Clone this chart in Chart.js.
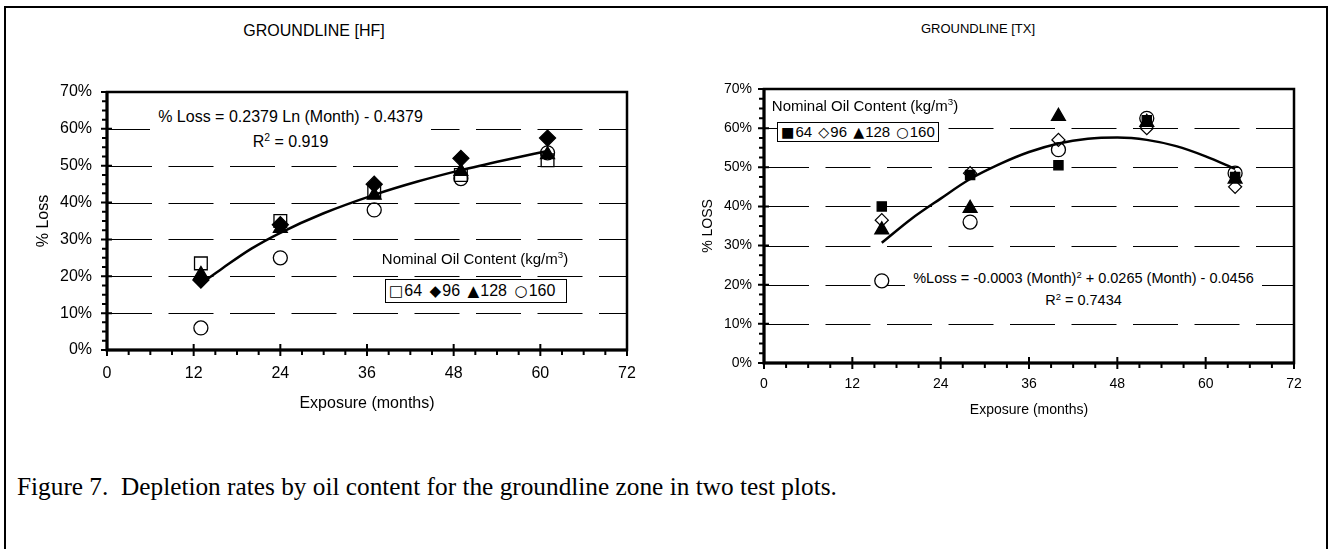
<!DOCTYPE html>
<html lang="en">
<head>
<meta charset="UTF-8">
<title>Figure 7 - Groundline depletion</title>
<script src="https://cdn.jsdelivr.net/npm/chart.js"></script>
<style>
    body {
        margin: 0;
        width: 1330px;
        height: 549px;
        overflow: hidden;
        position: relative;
        background: #fff;
        color: #000;
        font-family: 'Liberation Sans', Arial, sans-serif;
    }
    #frame {
        position: absolute;
        left: 4px;
        top: 6px;
        width: 1320px;
        height: 600px;
        border: 2px solid #000;
    }
    canvas { position: absolute; top: 0; }
    .center { position: absolute; transform: translate(-50%, -50%); white-space: nowrap; }
    .note { position: absolute; background: #fff; text-align: center; white-space: nowrap; }
    .legendBox {
        position: absolute;
        border: 1px solid #000;
        background: #fff;
        white-space: nowrap;
        box-sizing: border-box;
        padding-left: 3px;
    }
    .sym { font-family: 'DejaVu Sans', sans-serif; font-size: 0.95em; margin-right: 1px; }
    sup { font-size: 0.65em; line-height: 0; vertical-align: 0.55em; }
    #caption {
        position: absolute;
        left: 17px;
        top: 472px;
        font-family: 'Liberation Serif', 'Times New Roman', serif;
        font-size: 25.3px;
        white-space: pre;
    }
</style>
</head>
<body>

<div id="frame"></div>

<div class="center" style="left:314px; top:31px; font-size:16px;">GROUNDLINE [HF]</div>
<div class="center" style="left:978px; top:28px; font-size:13px;">GROUNDLINE [TX]</div>

<canvas id="hfChart" width="660" height="440" style="left:0;"></canvas>
<canvas id="txChart" width="665" height="440" style="left:665px;"></canvas>

<!-- HF annotations -->
<div class="note" style="left:150px; top:104px; width:281px; font-size:16px; line-height:25px;">% Loss = 0.2379 Ln (Month) - 0.4379<br>R<sup>2</sup> = 0.919</div>
<div class="center" style="left:475px; top:258px; font-size:15px;">Nominal Oil Content (kg/m<sup>3</sup>)</div>
<div class="legendBox" id="hfLegend" style="left:385px; top:279px; width:182px; height:24px; line-height:22px; font-size:16px; word-spacing:3px;"></div>

<!-- TX annotations -->
<div class="center" style="left:865px; top:105px; font-size:15px;">Nominal Oil Content (kg/m<sup>3</sup>)</div>
<div class="legendBox" id="txLegend" style="left:777px; top:122px; width:162px; height:20px; line-height:18px; font-size:15px; word-spacing:2px;"></div>
<div class="note" style="left:905px; top:267px; width:357px; font-size:14.5px; line-height:22px;">%Loss = -0.0003 (Month)<sup>2</sup> + 0.0265 (Month) - 0.0456<br>R<sup>2</sup> = 0.7434</div>

<div id="caption">Figure 7.  Depletion rates by oil content for the groundline zone in two test plots.</div>

<script>
    // nominal oil content classes (kg/m3)
    const seriesNames = ['64', '96', '128', '160'];
    const xTicks = [0, 12, 24, 36, 48, 60, 72];
    const yTicks = [0, 10, 20, 30, 40, 50, 60, 70];

    // GROUNDLINE [HF] - % loss by month
    const hfMonths = [13, 24, 37, 49, 61];
    const hfLoss64 = [23.5, 35, 43, 47.5, 51.5];
    const hfLoss96 = [19, 34, 45, 52, 57.5];
    const hfLoss128 = [20.5, 33, 42, 48.5, 53];
    const hfLoss160 = [6, 25, 38, 46.5, 53.5];
    // fitted curve
    const hfFitMonths = [13, 16, 20, 24, 30, 37, 43, 49, 55, 61];
    const hfFitLoss = [18, 22.2, 27.5, 31.8, 37.1, 42.1, 45.7, 48.8, 51.5, 54];

    // GROUNDLINE [TX] - % loss by month
    const txMonths = [16, 28, 40, 52, 64];
    const txLoss64 = [40, 48, 50.5, 62, 47.5];
    const txLoss96 = [36.5, 48.5, 57, 60, 45];
    const txLoss128 = [34, 39.5, 63, 61.5, 47];
    const txLoss160 = [21, 36, 54.5, 62.5, 48.5];
    const txFitMonths = [16, 20, 24, 28, 32, 36, 40, 44, 48, 52, 56, 60, 64];
    const txFitLoss = [30.7, 36.8, 42, 47, 50.8, 53.9, 56.1, 57.3, 57.6, 57, 55.4, 52.8, 49.6];

    // marker looks (legend glyphs match them)
    const hfMarkers = [
        { style: 'rect', radius: 9, fill: 'rgba(0,0,0,0)', glyph: '\u25A1' },
        { style: 'rectRot', radius: 8, fill: '#000', glyph: '\u25C6' },
        { style: 'triangle', radius: 8, fill: '#000', glyph: '\u25B2' },
        { style: 'circle', radius: 7, fill: 'rgba(0,0,0,0)', glyph: '\u25CB' }
    ];
    const txMarkers = [
        { style: 'rect', radius: 6.5, fill: '#000', glyph: '\u25A0' },
        { style: 'rectRot', radius: 6.5, fill: 'rgba(0,0,0,0)', glyph: '\u25C7' },
        { style: 'triangle', radius: 8, fill: '#000', glyph: '\u25B2' },
        { style: 'circle', radius: 7, fill: 'rgba(0,0,0,0)', glyph: '\u25CB' }
    ];

    function zip(xs, ys) {
        return xs.map((x, i) => ({ x: x, y: ys[i] }));
    }

    // Excel-like frame: dashed gridlines, border and tick marks
    const excelFrame = {
        id: 'excelFrame',
        beforeDatasetsDraw(chart, args, opts) {
            const { ctx, chartArea: a, scales: { y } } = chart;
            ctx.save();
            ctx.strokeStyle = '#000';
            ctx.lineWidth = 1;
            ctx.setLineDash(opts.dash);
            y.ticks.forEach(t => {
                if (t.value <= y.min || t.value >= y.max) return;
                const py = Math.round(y.getPixelForValue(t.value)) + 0.5;
                ctx.beginPath();
                ctx.moveTo(a.left, py);
                ctx.lineTo(a.right, py);
                ctx.stroke();
            });
            ctx.restore();
        },
        afterDatasetsDraw(chart, args, opts) {
            const { ctx, chartArea: a, scales: { x, y } } = chart;
            ctx.save();
            ctx.strokeStyle = '#000';
            ctx.lineWidth = 2;
            ctx.beginPath();
            for (let v = y.min; v <= y.max; v += opts.yMinor) {
                const py = y.getPixelForValue(v);
                const major = v % 10 === 0;
                ctx.moveTo(a.left - (major ? 6 : 5), py);
                ctx.lineTo(a.left + (major ? 5 : 0), py);
            }
            for (let v = x.min; v <= x.max; v += opts.xMinor) {
                const px = x.getPixelForValue(v);
                const major = v % 12 === 0;
                ctx.moveTo(px, a.bottom - (major ? 6 : 0));
                ctx.lineTo(px, a.bottom + (major ? 6 : 5));
            }
            ctx.stroke();
            ctx.lineWidth = 2.5;
            ctx.strokeRect(a.left, a.top, a.right - a.left, a.bottom - a.top);
            ctx.lineWidth = 3;
            ctx.beginPath();
            ctx.moveTo(a.left, a.top);
            ctx.lineTo(a.left, a.bottom);
            ctx.lineTo(a.right, a.bottom);
            ctx.stroke();
            ctx.restore();
        }
    };

    function createPlot(canvasId, o) {
        const datasets = [{
            data: zip(o.fitMonths, o.fitLoss),
            showLine: true,
            borderColor: '#000',
            borderWidth: 2.5,
            pointRadius: 0,
            cubicInterpolationMode: 'monotone'
        }];
        // later series drawn on top, like the original
        for (let i = o.series.length - 1; i >= 0; i--) {
            const m = o.markers[i];
            datasets.push({
                label: seriesNames[i],
                data: zip(o.months, o.series[i]),
                showLine: false,
                pointStyle: m.style,
                pointRadius: m.radius,
                pointBackgroundColor: m.fill,
                pointBorderColor: '#000',
                pointBorderWidth: 1.3
            });
        }

        new Chart(document.getElementById(canvasId), {
            type: 'scatter',
            data: { datasets: datasets },
            options: {
                responsive: false,
                animation: false,
                events: [],
                layout: { padding: { top: o.top, right: o.right, left: 0, bottom: 0 } },
                plugins: {
                    legend: { display: false },
                    tooltip: { enabled: false },
                    excelFrame: { dash: [45, 16.5], xMinor: 3, yMinor: 2.5 }
                },
                scales: {
                    x: {
                        type: 'linear',
                        min: 0,
                        max: 72,
                        afterBuildTicks: s => { s.ticks = xTicks.map(v => ({ value: v })); },
                        afterFit: s => { s.height = o.xHeight; },
                        grid: { display: false, drawTicks: false },
                        border: { display: false },
                        ticks: { color: '#000', font: { size: o.fs }, padding: o.xTickPad, maxRotation: 0, autoSkip: false },
                        title: { display: true, text: 'Exposure (months)', color: '#000', font: { size: o.fs }, padding: { top: 0, bottom: o.xTitlePad } }
                    },
                    y: {
                        min: 0,
                        max: 70,
                        afterBuildTicks: s => { s.ticks = yTicks.map(v => ({ value: v })); },
                        afterFit: s => { s.width = o.yWidth; },
                        grid: { display: false, drawTicks: false },
                        border: { display: false },
                        ticks: { color: '#000', font: { size: o.fs }, padding: o.yTickPad, callback: v => v + '%' },
                        title: { display: true, text: o.yTitle, color: '#000', font: { size: o.fs }, padding: { top: o.yTitlePad, bottom: 0 } }
                    }
                }
            },
            plugins: [excelFrame]
        });
    }

    function fillLegend(id, markers) {
        document.getElementById(id).innerHTML = markers
            .map((m, i) => '<span class="sym">' + m.glyph + '</span>' + seriesNames[i])
            .join(' ');
    }

    Chart.defaults.font.family = "'Liberation Sans', Arial, sans-serif";
    Chart.defaults.color = '#000';

    createPlot('hfChart', {
        months: hfMonths,
        series: [hfLoss64, hfLoss96, hfLoss128, hfLoss160],
        fitMonths: hfFitMonths,
        fitLoss: hfFitLoss,
        markers: hfMarkers,
        yTitle: '% Loss',
        fs: 16,
        top: 92, right: 33, yWidth: 107, xHeight: 90,
        yTickPad: 15, xTickPad: 14, yTitlePad: 34, xTitlePad: 27
    });

    createPlot('txChart', {
        months: txMonths,
        series: [txLoss64, txLoss96, txLoss128, txLoss160],
        fitMonths: txFitMonths,
        fitLoss: txFitLoss,
        markers: txMarkers,
        yTitle: '% LOSS',
        fs: 14,
        top: 89, right: 36, yWidth: 99, xHeight: 77,
        yTickPad: 12, xTickPad: 13, yTitlePad: 35, xTitlePad: 21
    });

    fillLegend('hfLegend', hfMarkers);
    fillLegend('txLegend', txMarkers);
</script>

</body>
</html>
